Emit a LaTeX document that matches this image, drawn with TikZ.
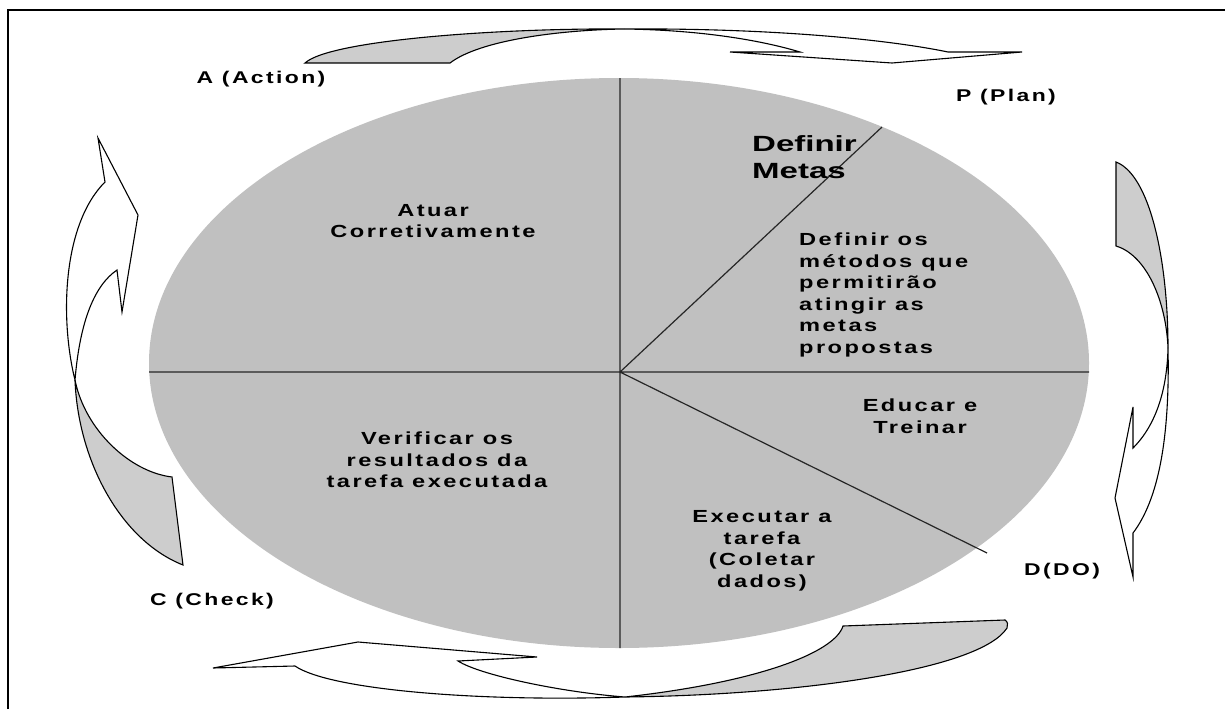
\documentclass[tikz,border=0pt]{standalone}
\usepackage{fontspec}
\setmainfont{Liberation Sans}
\newfontfamily\stepfont[FakeStretch=1.35,LetterSpace=14]{Liberation Sans}
\newfontfamily\goalfont[FakeStretch=1.5]{Liberation Sans}
\definecolor{disc}{RGB}{192,192,192}
\definecolor{tailgray}{RGB}{205,205,205}

\begin{document}
\begin{tikzpicture}[x=1pt, y=-1pt,
  phase/.style={font=\stepfont\bfseries\fontsize{17}{20}\selectfont, inner sep=0pt},
  stepbox/.style={align=center, font=\stepfont\bfseries\fontsize{17.5}{21.5}\selectfont, inner sep=0pt},
  ribbon/.style={draw=black, line width=1.1pt, line join=miter},
  divider/.style={draw=black!85, line width=1.2pt}]
\useasboundingbox (0,0) rectangle (1225,709);
% frame
\draw[line width=1.4pt] (8,709) -- (8,10) -- (1225,10);
% disc and its sectors
\fill[disc] (619,363) ellipse [x radius=470, y radius=285];
\coordinate (ctr) at (620,372);
\coordinate (top) at (620,78);
\coordinate (bot) at (620,648);
\coordinate (west) at (149,372);
\coordinate (east) at (1089,372);
\coordinate (ne) at (882,127);
\coordinate (se) at (987,553);
\path[divider] (top) -- (bot) (west) -- (east) (ctr) -- (ne) (ctr) -- (se);
% sector texts
\node[anchor=west, align=left, inner sep=0pt, font=\goalfont\bfseries\fontsize{22}{27}\selectfont] (metas) at (752,157) {Definir\\Metas};
\node[stepbox, align=left, anchor=west] (metodos) at (799,295) {Definir os\\métodos que\\permitirão\\atingir as\\metas\\propostas};
\node[stepbox] (educar) at (920,416) {Educar e\\Treinar};
\node[stepbox] (executar) at (762,551) {Executar a\\tarefa\\(Coletar\\dados)};
\node[stepbox] (verificar) at (437,460) {Verificar os\\resultados da\\tarefa executada};
\node[stepbox] (atuar) at (433,221) {Atuar\\Corretivamente};
% phase labels
\node[phase] (act) at (261,79) {A (Action)};
\node[phase] (plan) at (1006,97) {P (Plan)};
\node[phase] (check) at (212,601) {C (Check)};
\node[phase] (do) at (1062,571) {D(DO)};
% top arrow, A to P
\fill[tailgray, ribbon] (305,63) .. controls (330,40) and (500,28) .. (624,29)
  .. controls (560,30) and (480,40) .. (450,63) -- cycle;
\fill[white, ribbon] (624,29) .. controls (760,28) and (880,38) .. (948,52)
  -- (1022,52) -- (892,63) -- (730,52) -- (800,52)
  .. controls (760,40) and (700,30) .. cycle;
% right arrow, P to D
\fill[tailgray, ribbon] (1116,162) .. controls (1150,175) and (1168,260) .. (1168,348)
  .. controls (1166,300) and (1146,255) .. (1116,246) -- cycle;
\fill[white, ribbon] (1168,348) .. controls (1170,440) and (1158,500) .. (1133,533)
  -- (1133,577) -- (1115,498) -- (1133,407) -- (1133,448)
  .. controls (1156,425) and (1167,390) .. cycle;
% bottom arrow, D to C
\fill[tailgray, ribbon] (843,626) -- (1005,620) .. controls (1008,622) and (1008,625) .. (1007,628)
  .. controls (980,670) and (800,695) .. (625,697)
  .. controls (760,682) and (835,652) .. cycle;
\fill[white, ribbon] (625,697) .. controls (480,702) and (330,690) .. (295,666)
  -- (213,668) -- (358,642) -- (537,657) -- (458,661)
  .. controls (480,675) and (560,692) .. cycle;
% left arrow, C to A
\fill[tailgray, ribbon] (183,565) .. controls (120,540) and (78,460) .. (75,380)
  .. controls (85,430) and (130,472) .. (172,477) -- cycle;
\fill[white, ribbon] (75,380) .. controls (60,320) and (62,225) .. (105,182)
  -- (98,138) -- (138,215) -- (122,312) -- (117,270)
  .. controls (95,285) and (80,320) .. cycle;
\end{tikzpicture}
\end{document}
